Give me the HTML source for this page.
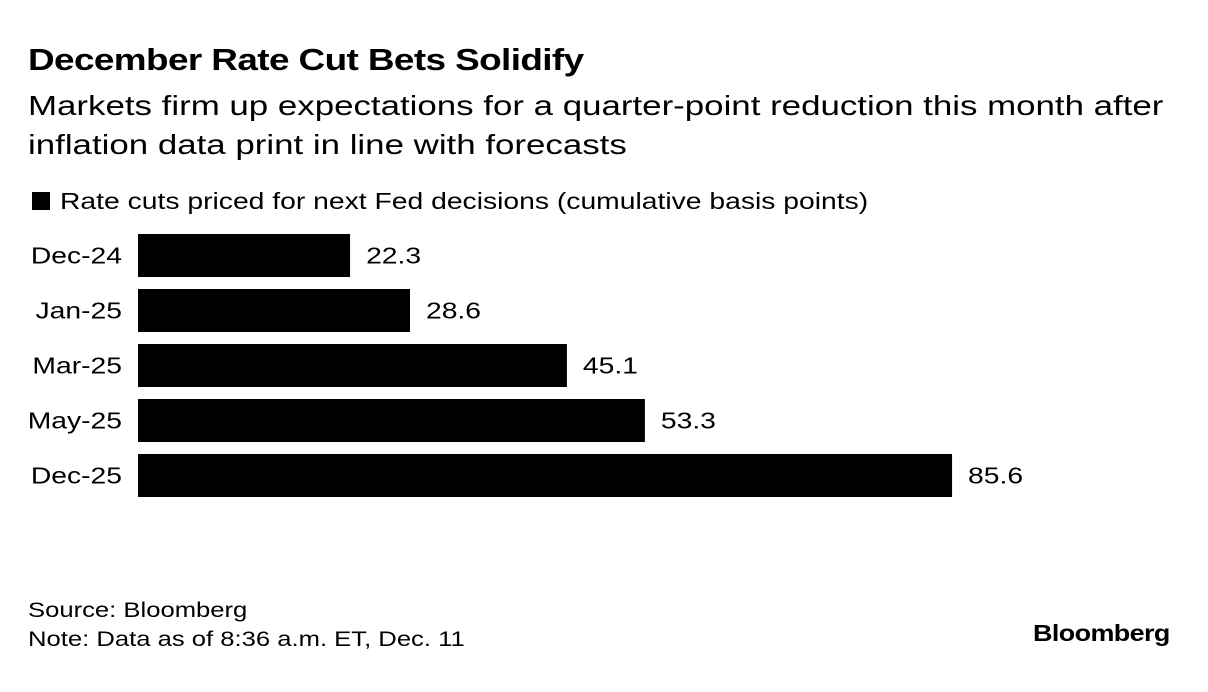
<!DOCTYPE html>
<html><head><meta charset="utf-8"><style>
body{margin:0;width:1208px;height:692px;background:#fff;font-family:"Liberation Sans",sans-serif;color:#000;position:relative;overflow:hidden}
.t{position:absolute;white-space:nowrap;transform-origin:0 0}
</style></head><body>
<div class="t" style="left:28px;top:42px;font-size:31px;font-weight:bold;letter-spacing:-0.5px;transform:scaleX(1.19)">December Rate Cut Bets Solidify</div>
<div class="t" style="left:28px;top:86px;font-size:28px;line-height:39px;transform:scaleX(1.245)">Markets firm up expectations for a quarter-point reduction this month after<br>inflation data print in line with forecasts</div>
<div class="t" style="left:32px;top:188px;font-size:23px"><span style="display:inline-block;width:18px;height:18px;background:#000;vertical-align:-1px"></span><span style="display:inline-block;transform:scaleX(1.23);transform-origin:0 0;margin-left:10px">Rate cuts priced for next Fed decisions (cumulative basis points)</span></div>
<svg id="chart" width="1208" height="692" style="position:absolute;left:0;top:0"></svg>
<div class="t" style="left:28px;top:596px;font-size:21px;line-height:29px;transform:scaleX(1.22)">Source: Bloomberg<br>Note: Data as of 8:36 a.m. ET, Dec. 11</div>
<div class="t" style="left:1033px;top:620px;font-size:23px;font-weight:bold;letter-spacing:-0.5px;transform:scaleX(1.17)">Bloomberg</div>
<script>
const categories=["Dec-24","Jan-25","Mar-25","May-25","Dec-25"];
const values=[22.3,28.6,45.1,53.3,85.6];
const labels=["22.3","28.6","45.1","53.3","85.6"];
const svg=document.getElementById('chart');
const NS="http://www.w3.org/2000/svg";
const x0=138, scale=9.51, y0=234, step=55, bh=43, sx=1.23;
const x=v=>x0+v*scale;
categories.forEach((c,i)=>{
  const y=y0+i*step;
  const r=document.createElementNS(NS,'rect');
  r.setAttribute('x',x0);r.setAttribute('y',y);r.setAttribute('width',x(values[i])-x0);r.setAttribute('height',bh);r.setAttribute('fill','#000');
  
  
  svg.appendChild(r);
  const t=document.createElementNS(NS,'text');
  t.setAttribute('x',0);t.setAttribute('y',0);t.setAttribute('text-anchor','end');t.setAttribute('font-size','23');t.setAttribute('font-family','Liberation Sans, sans-serif');
  t.setAttribute('transform','translate(122,'+(y+bh/2+8)+') scale('+sx+',1)');
  t.textContent=c;
  
  
  svg.appendChild(t);
  const v=document.createElementNS(NS,'text');
  v.setAttribute('x',0);v.setAttribute('y',0);v.setAttribute('font-size','23');v.setAttribute('font-family','Liberation Sans, sans-serif');
  v.setAttribute('transform','translate('+(x(values[i])+16)+','+(y+bh/2+8)+') scale('+sx+',1)');
  v.textContent=labels[i];
  
  
  svg.appendChild(v);
});
</script>
</body></html>
